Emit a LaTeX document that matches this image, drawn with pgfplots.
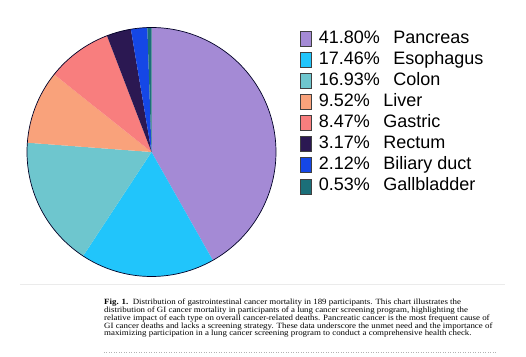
\documentclass[border=0pt]{standalone}
\usepackage{fontspec}
\setmainfont{Liberation Sans}
\newfontfamily\capfont[FakeStretch=1.11]{Liberation Serif}
\usepackage{pgfplots}
\usepackage{pgfplotstable}
\pgfplotsset{compat=1.18}
\definecolor{c0}{HTML}{A48AD5}
\definecolor{c1}{HTML}{21C5FB}
\definecolor{c2}{HTML}{6EC6CE}
\definecolor{c3}{HTML}{F9A27B}
\definecolor{c4}{HTML}{F87E7E}
\definecolor{c5}{HTML}{2B1852}
\definecolor{c6}{HTML}{1547E6}
\definecolor{c7}{HTML}{1B6F79}
\pgfplotstableread{
name pct
Pancreas 41.80
Esophagus 17.46
Colon 16.93
Liver 9.52
Gastric 8.47
Rectum 3.17
Biliary 2.12
Gallbladder 0.53
}\pietable
\begin{document}
\lineskiplimit=-5pt
\begin{tikzpicture}
\begin{axis}[
  width=526bp, height=357bp, scale only axis,
  xmin=0, xmax=526, ymin=0, ymax=357,
  hide axis, clip=false,
  legend style={at={(axis cs:300,327)}, anchor=north west, draw=none, fill=none,
    font=\fontsize{18bp}{20bp}\selectfont, row sep=4.1bp, column sep=7bp, inner sep=0pt,
    nodes={inner sep=0pt, text height=13bp, text depth=4bp}},
  legend cell align=left,
  legend image code/.code={\draw[#1, draw=black!75, line width=0.6bp] (0bp,-7.5bp) rectangle (11bp,7.5bp);},
  legend entries={
    41.80\%\hspace{13.5bp}Pancreas,
    17.46\%\hspace{13.5bp}Esophagus,
    16.93\%\hspace{13.5bp}Colon,
    9.52\%\hspace{13.5bp}Liver,
    8.47\%\hspace{13.5bp}Gastric,
    3.17\%\hspace{13.5bp}Rectum,
    2.12\%\hspace{13.5bp}Biliary duct,
    0.53\%\hspace{13.5bp}Gallbladder},
]
\def\cum{0}
\pgfplotsforeachungrouped \i in {0,...,7}{%
  \pgfplotstablegetelem{\i}{pct}\of\pietable
  \pgfmathsetmacro\a{90-3.6*\cum}%
  \pgfmathsetmacro\cum{\cum+\pgfplotsretval}%
  \pgfmathsetmacro\b{90-3.6*\cum}%
  \edef\doplot{\noexpand\addplot[fill=c\i, draw=none, domain=\b:\a, samples=80, variable=\noexpand\t]
    ({151.5+124.5*cos(\noexpand\t)},{205+124.5*sin(\noexpand\t)}) -- (axis cs:151.5,205) -- cycle;}%
  \doplot
}
\addplot[forget plot, draw=black!85!blue, line width=0.7bp, domain=0:360, samples=240, variable=\t]
  ({151.5+124.5*cos(\t)},{205+124.5*sin(\t)});
\draw[black!8, line width=0.6bp] (axis cs:20,73) -- (axis cs:505,73);
\draw[black!30, dotted, line width=0.5bp] (axis cs:104,5) -- (axis cs:496,5);
\node[anchor=north west, inner sep=0pt, align=left,
  font=\capfont\fontsize{8bp}{7.9bp}\selectfont] at (axis cs:104,58.5)
{\textbf{Fig. 1.}\ \ Distribution of gastrointestinal cancer mortality in 189 participants. This chart illustrates the\\
distribution of GI cancer mortality in participants of a lung cancer screening program, highlighting the\\
relative impact of each type on overall cancer-related deaths. Pancreatic cancer is the most frequent cause of\\
GI cancer deaths and lacks a screening strategy. These data underscore the unmet need and the importance of\\
maximizing participation in a lung cancer screening program to conduct a comprehensive health check.};
\end{axis}
\pgfresetboundingbox
\path[use as bounding box] (current axis.south west) rectangle (current axis.north east);
\end{tikzpicture}
\end{document}
